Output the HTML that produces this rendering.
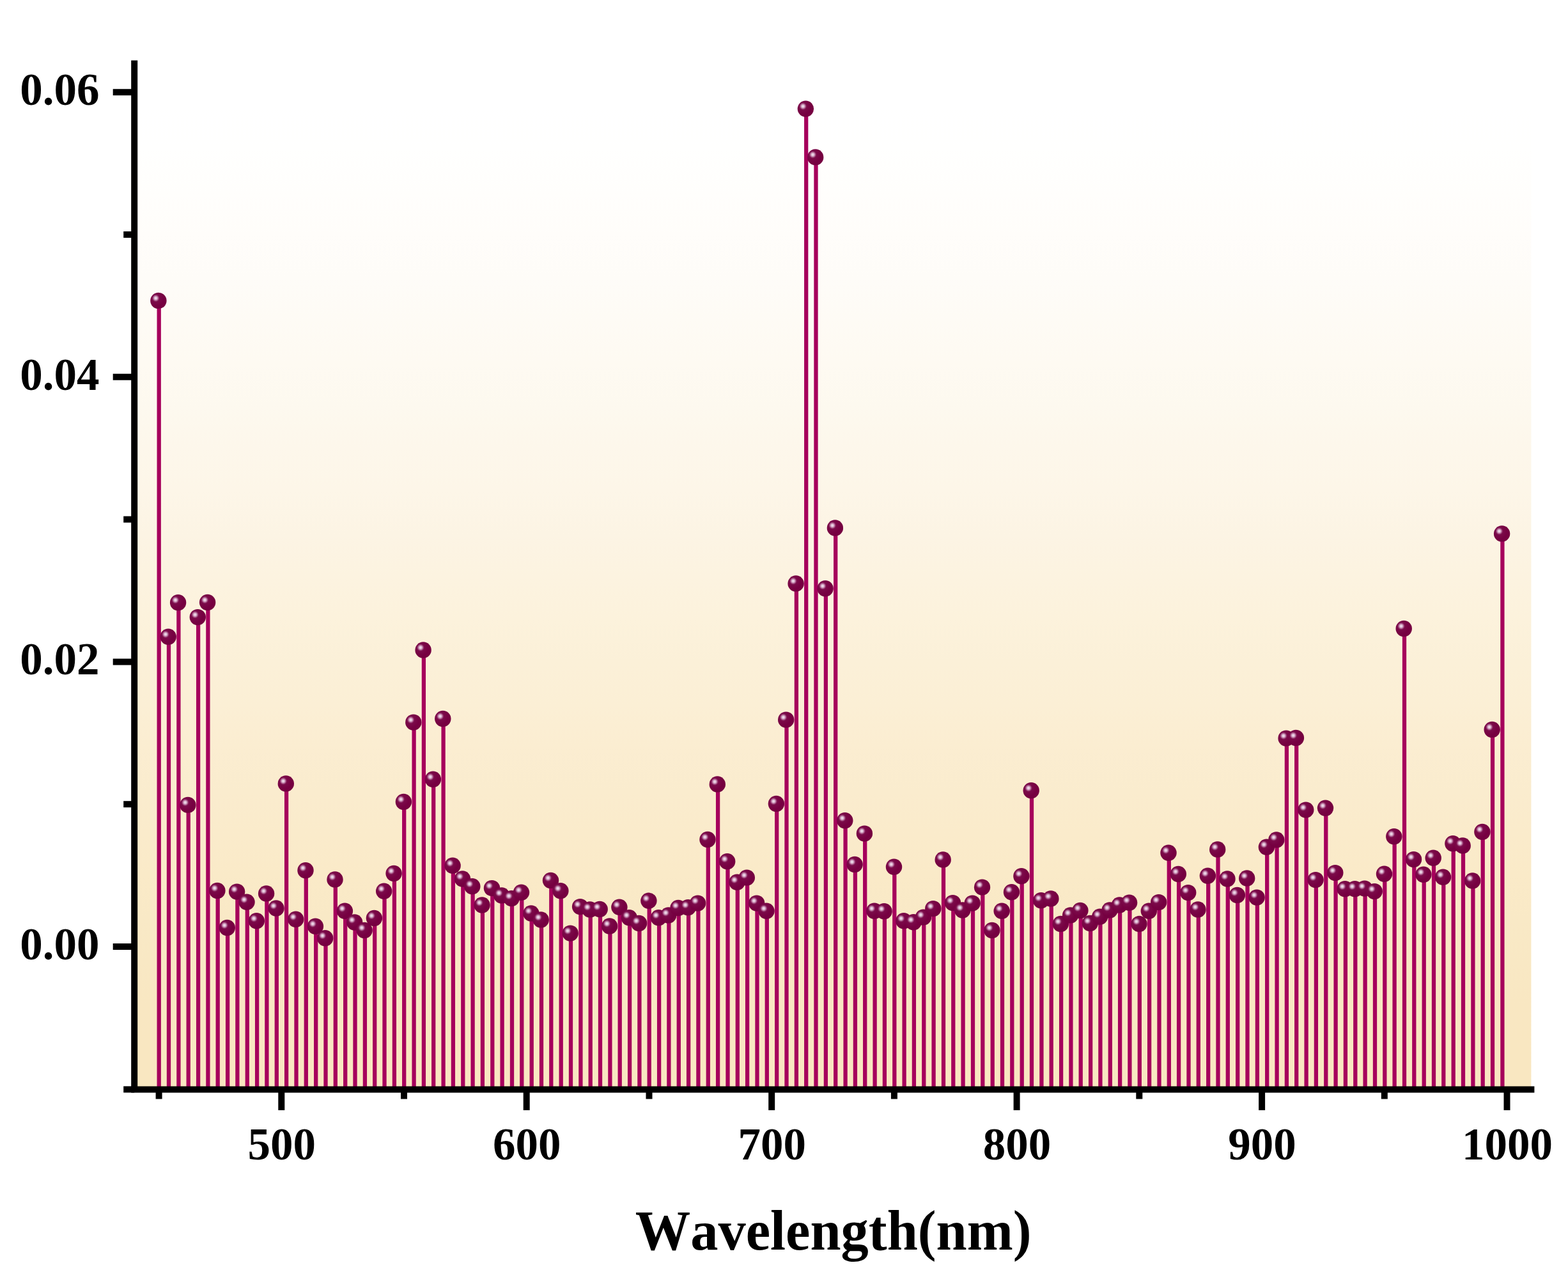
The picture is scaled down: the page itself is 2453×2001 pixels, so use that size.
<!DOCTYPE html>
<html lang="en"><head><meta charset="utf-8"><title>Wavelength spectrum</title>
<style>html,body{margin:0;padding:0;background:#fff;}body{width:2453px;height:2001px;overflow:hidden;}svg{display:block;}text{font-family:"Liberation Serif","Times New Roman",Times,serif;font-weight:bold;fill:#000;}</style></head><body>
<svg width="2453" height="2001" viewBox="0 0 2453 2001">
<defs>
<linearGradient id="bg" x1="0" y1="0" x2="0" y2="1"><stop offset="0.0000" stop-color="#ffffff"/><stop offset="0.0417" stop-color="#ffffff"/><stop offset="0.0833" stop-color="#fffffe"/><stop offset="0.1250" stop-color="#fffefc"/><stop offset="0.1667" stop-color="#fffdfa"/><stop offset="0.2083" stop-color="#fefcf8"/><stop offset="0.2500" stop-color="#fefbf5"/><stop offset="0.2917" stop-color="#fefaf2"/><stop offset="0.3333" stop-color="#fdf9ef"/><stop offset="0.3750" stop-color="#fdf7eb"/><stop offset="0.4167" stop-color="#fdf6e8"/><stop offset="0.4583" stop-color="#fcf4e4"/><stop offset="0.5000" stop-color="#fcf3e0"/><stop offset="0.5417" stop-color="#fcf2dc"/><stop offset="0.5833" stop-color="#fbf0d8"/><stop offset="0.6250" stop-color="#fbefd5"/><stop offset="0.6667" stop-color="#fbedd1"/><stop offset="0.7083" stop-color="#faecce"/><stop offset="0.7500" stop-color="#faebcb"/><stop offset="0.7917" stop-color="#faeac8"/><stop offset="0.8333" stop-color="#f9e9c6"/><stop offset="0.8750" stop-color="#f9e8c4"/><stop offset="0.9167" stop-color="#f9e7c2"/><stop offset="0.9583" stop-color="#f9e7c1"/><stop offset="1.0000" stop-color="#f9e7c1"/></linearGradient>
<radialGradient id="ball" cx="0.335" cy="0.345" r="0.5" fx="0.335" fy="0.345"><stop offset="0" stop-color="#f1e3ef"/><stop offset="0.12" stop-color="#e6cde0"/><stop offset="0.24" stop-color="#c68bb0"/><stop offset="0.36" stop-color="#95386f"/><stop offset="0.46" stop-color="#7b0a49"/><stop offset="1" stop-color="#760041"/></radialGradient>
</defs>
<rect x="0" y="0" width="2453" height="2001" fill="#ffffff"/>
<rect x="210.2" y="99.5" width="2185.2" height="1604.9" fill="url(#bg)"/>
<g id="series">
<line x1="248.7" y1="470.3" x2="248.7" y2="1704.4" stroke="#a6005c" stroke-width="6.3"/>
<circle cx="247.9" cy="470.4" r="12.7" fill="url(#ball)"/>
<line x1="264.0" y1="996.2" x2="264.0" y2="1704.4" stroke="#a6005c" stroke-width="6.3"/>
<circle cx="263.2" cy="996.3" r="12.7" fill="url(#ball)"/>
<line x1="279.4" y1="942.6" x2="279.4" y2="1704.4" stroke="#a6005c" stroke-width="6.3"/>
<circle cx="278.6" cy="942.7" r="12.7" fill="url(#ball)"/>
<line x1="294.7" y1="1259.3" x2="294.7" y2="1704.4" stroke="#a6005c" stroke-width="6.3"/>
<circle cx="293.9" cy="1259.4" r="12.7" fill="url(#ball)"/>
<line x1="310.1" y1="965.5" x2="310.1" y2="1704.4" stroke="#a6005c" stroke-width="6.3"/>
<circle cx="309.3" cy="965.6" r="12.7" fill="url(#ball)"/>
<line x1="325.4" y1="942.4" x2="325.4" y2="1704.4" stroke="#a6005c" stroke-width="6.3"/>
<circle cx="324.6" cy="942.5" r="12.7" fill="url(#ball)"/>
<line x1="340.7" y1="1393.3" x2="340.7" y2="1704.4" stroke="#a6005c" stroke-width="6.3"/>
<circle cx="339.9" cy="1393.4" r="12.7" fill="url(#ball)"/>
<line x1="356.1" y1="1451.4" x2="356.1" y2="1704.4" stroke="#a6005c" stroke-width="6.3"/>
<circle cx="355.3" cy="1451.5" r="12.7" fill="url(#ball)"/>
<line x1="371.4" y1="1395.0" x2="371.4" y2="1704.4" stroke="#a6005c" stroke-width="6.3"/>
<circle cx="370.6" cy="1395.1" r="12.7" fill="url(#ball)"/>
<line x1="386.8" y1="1411.2" x2="386.8" y2="1704.4" stroke="#a6005c" stroke-width="6.3"/>
<circle cx="386.0" cy="1411.3" r="12.7" fill="url(#ball)"/>
<line x1="402.1" y1="1440.7" x2="402.1" y2="1704.4" stroke="#a6005c" stroke-width="6.3"/>
<circle cx="401.3" cy="1440.8" r="12.7" fill="url(#ball)"/>
<line x1="417.4" y1="1397.8" x2="417.4" y2="1704.4" stroke="#a6005c" stroke-width="6.3"/>
<circle cx="416.6" cy="1397.9" r="12.7" fill="url(#ball)"/>
<line x1="432.8" y1="1420.9" x2="432.8" y2="1704.4" stroke="#a6005c" stroke-width="6.3"/>
<circle cx="432.0" cy="1421.0" r="12.7" fill="url(#ball)"/>
<line x1="448.1" y1="1225.8" x2="448.1" y2="1704.4" stroke="#a6005c" stroke-width="6.3"/>
<circle cx="447.3" cy="1225.9" r="12.7" fill="url(#ball)"/>
<line x1="463.5" y1="1438.2" x2="463.5" y2="1704.4" stroke="#a6005c" stroke-width="6.3"/>
<circle cx="462.7" cy="1438.3" r="12.7" fill="url(#ball)"/>
<line x1="478.8" y1="1361.7" x2="478.8" y2="1704.4" stroke="#a6005c" stroke-width="6.3"/>
<circle cx="478.0" cy="1361.8" r="12.7" fill="url(#ball)"/>
<line x1="494.2" y1="1449.1" x2="494.2" y2="1704.4" stroke="#a6005c" stroke-width="6.3"/>
<circle cx="493.4" cy="1449.2" r="12.7" fill="url(#ball)"/>
<line x1="509.5" y1="1467.6" x2="509.5" y2="1704.4" stroke="#a6005c" stroke-width="6.3"/>
<circle cx="508.7" cy="1467.7" r="12.7" fill="url(#ball)"/>
<line x1="524.8" y1="1375.8" x2="524.8" y2="1704.4" stroke="#a6005c" stroke-width="6.3"/>
<circle cx="524.0" cy="1375.9" r="12.7" fill="url(#ball)"/>
<line x1="540.2" y1="1425.1" x2="540.2" y2="1704.4" stroke="#a6005c" stroke-width="6.3"/>
<circle cx="539.4" cy="1425.2" r="12.7" fill="url(#ball)"/>
<line x1="555.5" y1="1442.9" x2="555.5" y2="1704.4" stroke="#a6005c" stroke-width="6.3"/>
<circle cx="554.7" cy="1443.0" r="12.7" fill="url(#ball)"/>
<line x1="570.9" y1="1455.3" x2="570.9" y2="1704.4" stroke="#a6005c" stroke-width="6.3"/>
<circle cx="570.1" cy="1455.4" r="12.7" fill="url(#ball)"/>
<line x1="586.2" y1="1436.4" x2="586.2" y2="1704.4" stroke="#a6005c" stroke-width="6.3"/>
<circle cx="585.4" cy="1436.5" r="12.7" fill="url(#ball)"/>
<line x1="601.5" y1="1394.2" x2="601.5" y2="1704.4" stroke="#a6005c" stroke-width="6.3"/>
<circle cx="600.7" cy="1394.3" r="12.7" fill="url(#ball)"/>
<line x1="616.9" y1="1366.4" x2="616.9" y2="1704.4" stroke="#a6005c" stroke-width="6.3"/>
<circle cx="616.1" cy="1366.5" r="12.7" fill="url(#ball)"/>
<line x1="632.2" y1="1254.3" x2="632.2" y2="1704.4" stroke="#a6005c" stroke-width="6.3"/>
<circle cx="631.4" cy="1254.4" r="12.7" fill="url(#ball)"/>
<line x1="647.6" y1="1130.0" x2="647.6" y2="1704.4" stroke="#a6005c" stroke-width="6.3"/>
<circle cx="646.8" cy="1130.1" r="12.7" fill="url(#ball)"/>
<line x1="662.9" y1="1016.9" x2="662.9" y2="1704.4" stroke="#a6005c" stroke-width="6.3"/>
<circle cx="662.1" cy="1017.0" r="12.7" fill="url(#ball)"/>
<line x1="678.2" y1="1219.2" x2="678.2" y2="1704.4" stroke="#a6005c" stroke-width="6.3"/>
<circle cx="677.4" cy="1219.3" r="12.7" fill="url(#ball)"/>
<line x1="693.6" y1="1124.4" x2="693.6" y2="1704.4" stroke="#a6005c" stroke-width="6.3"/>
<circle cx="692.8" cy="1124.5" r="12.7" fill="url(#ball)"/>
<line x1="708.9" y1="1354.2" x2="708.9" y2="1704.4" stroke="#a6005c" stroke-width="6.3"/>
<circle cx="708.1" cy="1354.3" r="12.7" fill="url(#ball)"/>
<line x1="724.3" y1="1374.9" x2="724.3" y2="1704.4" stroke="#a6005c" stroke-width="6.3"/>
<circle cx="723.5" cy="1375.0" r="12.7" fill="url(#ball)"/>
<line x1="739.6" y1="1386.7" x2="739.6" y2="1704.4" stroke="#a6005c" stroke-width="6.3"/>
<circle cx="738.8" cy="1386.8" r="12.7" fill="url(#ball)"/>
<line x1="754.9" y1="1415.9" x2="754.9" y2="1704.4" stroke="#a6005c" stroke-width="6.3"/>
<circle cx="754.1" cy="1416.0" r="12.7" fill="url(#ball)"/>
<line x1="770.3" y1="1389.5" x2="770.3" y2="1704.4" stroke="#a6005c" stroke-width="6.3"/>
<circle cx="769.5" cy="1389.6" r="12.7" fill="url(#ball)"/>
<line x1="785.6" y1="1400.8" x2="785.6" y2="1704.4" stroke="#a6005c" stroke-width="6.3"/>
<circle cx="784.8" cy="1400.9" r="12.7" fill="url(#ball)"/>
<line x1="801.0" y1="1405.5" x2="801.0" y2="1704.4" stroke="#a6005c" stroke-width="6.3"/>
<circle cx="800.2" cy="1405.6" r="12.7" fill="url(#ball)"/>
<line x1="816.3" y1="1396.1" x2="816.3" y2="1704.4" stroke="#a6005c" stroke-width="6.3"/>
<circle cx="815.5" cy="1396.2" r="12.7" fill="url(#ball)"/>
<line x1="831.7" y1="1428.8" x2="831.7" y2="1704.4" stroke="#a6005c" stroke-width="6.3"/>
<circle cx="830.9" cy="1428.9" r="12.7" fill="url(#ball)"/>
<line x1="847.0" y1="1438.8" x2="847.0" y2="1704.4" stroke="#a6005c" stroke-width="6.3"/>
<circle cx="846.2" cy="1438.9" r="12.7" fill="url(#ball)"/>
<line x1="862.3" y1="1377.3" x2="862.3" y2="1704.4" stroke="#a6005c" stroke-width="6.3"/>
<circle cx="861.5" cy="1377.4" r="12.7" fill="url(#ball)"/>
<line x1="877.7" y1="1393.7" x2="877.7" y2="1704.4" stroke="#a6005c" stroke-width="6.3"/>
<circle cx="876.9" cy="1393.8" r="12.7" fill="url(#ball)"/>
<line x1="893.0" y1="1460.0" x2="893.0" y2="1704.4" stroke="#a6005c" stroke-width="6.3"/>
<circle cx="892.2" cy="1460.1" r="12.7" fill="url(#ball)"/>
<line x1="908.4" y1="1418.5" x2="908.4" y2="1704.4" stroke="#a6005c" stroke-width="6.3"/>
<circle cx="907.6" cy="1418.6" r="12.7" fill="url(#ball)"/>
<line x1="923.7" y1="1422.8" x2="923.7" y2="1704.4" stroke="#a6005c" stroke-width="6.3"/>
<circle cx="922.9" cy="1422.9" r="12.7" fill="url(#ball)"/>
<line x1="939.0" y1="1422.4" x2="939.0" y2="1704.4" stroke="#a6005c" stroke-width="6.3"/>
<circle cx="938.2" cy="1422.5" r="12.7" fill="url(#ball)"/>
<line x1="954.4" y1="1448.8" x2="954.4" y2="1704.4" stroke="#a6005c" stroke-width="6.3"/>
<circle cx="953.6" cy="1448.9" r="12.7" fill="url(#ball)"/>
<line x1="969.7" y1="1419.1" x2="969.7" y2="1704.4" stroke="#a6005c" stroke-width="6.3"/>
<circle cx="968.9" cy="1419.2" r="12.7" fill="url(#ball)"/>
<line x1="985.1" y1="1435.6" x2="985.1" y2="1704.4" stroke="#a6005c" stroke-width="6.3"/>
<circle cx="984.3" cy="1435.7" r="12.7" fill="url(#ball)"/>
<line x1="1000.4" y1="1444.4" x2="1000.4" y2="1704.4" stroke="#a6005c" stroke-width="6.3"/>
<circle cx="999.6" cy="1444.5" r="12.7" fill="url(#ball)"/>
<line x1="1015.7" y1="1409.2" x2="1015.7" y2="1704.4" stroke="#a6005c" stroke-width="6.3"/>
<circle cx="1014.9" cy="1409.3" r="12.7" fill="url(#ball)"/>
<line x1="1031.1" y1="1435.6" x2="1031.1" y2="1704.4" stroke="#a6005c" stroke-width="6.3"/>
<circle cx="1030.3" cy="1435.7" r="12.7" fill="url(#ball)"/>
<line x1="1046.4" y1="1431.8" x2="1046.4" y2="1704.4" stroke="#a6005c" stroke-width="6.3"/>
<circle cx="1045.6" cy="1431.9" r="12.7" fill="url(#ball)"/>
<line x1="1061.8" y1="1420.4" x2="1061.8" y2="1704.4" stroke="#a6005c" stroke-width="6.3"/>
<circle cx="1061.0" cy="1420.5" r="12.7" fill="url(#ball)"/>
<line x1="1077.1" y1="1419.6" x2="1077.1" y2="1704.4" stroke="#a6005c" stroke-width="6.3"/>
<circle cx="1076.3" cy="1419.7" r="12.7" fill="url(#ball)"/>
<line x1="1092.4" y1="1413.0" x2="1092.4" y2="1704.4" stroke="#a6005c" stroke-width="6.3"/>
<circle cx="1091.6" cy="1413.1" r="12.7" fill="url(#ball)"/>
<line x1="1107.8" y1="1313.4" x2="1107.8" y2="1704.4" stroke="#a6005c" stroke-width="6.3"/>
<circle cx="1107.0" cy="1313.5" r="12.7" fill="url(#ball)"/>
<line x1="1123.1" y1="1226.8" x2="1123.1" y2="1704.4" stroke="#a6005c" stroke-width="6.3"/>
<circle cx="1122.3" cy="1226.9" r="12.7" fill="url(#ball)"/>
<line x1="1138.5" y1="1347.6" x2="1138.5" y2="1704.4" stroke="#a6005c" stroke-width="6.3"/>
<circle cx="1137.7" cy="1347.7" r="12.7" fill="url(#ball)"/>
<line x1="1153.8" y1="1380.2" x2="1153.8" y2="1704.4" stroke="#a6005c" stroke-width="6.3"/>
<circle cx="1153.0" cy="1380.3" r="12.7" fill="url(#ball)"/>
<line x1="1169.1" y1="1373.0" x2="1169.1" y2="1704.4" stroke="#a6005c" stroke-width="6.3"/>
<circle cx="1168.3" cy="1373.1" r="12.7" fill="url(#ball)"/>
<line x1="1184.5" y1="1413.0" x2="1184.5" y2="1704.4" stroke="#a6005c" stroke-width="6.3"/>
<circle cx="1183.7" cy="1413.1" r="12.7" fill="url(#ball)"/>
<line x1="1199.8" y1="1425.1" x2="1199.8" y2="1704.4" stroke="#a6005c" stroke-width="6.3"/>
<circle cx="1199.0" cy="1425.2" r="12.7" fill="url(#ball)"/>
<line x1="1215.2" y1="1257.4" x2="1215.2" y2="1704.4" stroke="#a6005c" stroke-width="6.3"/>
<circle cx="1214.4" cy="1257.5" r="12.7" fill="url(#ball)"/>
<line x1="1230.5" y1="1126.0" x2="1230.5" y2="1704.4" stroke="#a6005c" stroke-width="6.3"/>
<circle cx="1229.7" cy="1126.1" r="12.7" fill="url(#ball)"/>
<line x1="1245.9" y1="912.8" x2="1245.9" y2="1704.4" stroke="#a6005c" stroke-width="6.3"/>
<circle cx="1245.1" cy="912.9" r="12.7" fill="url(#ball)"/>
<line x1="1261.2" y1="170.1" x2="1261.2" y2="1704.4" stroke="#a6005c" stroke-width="6.3"/>
<circle cx="1260.4" cy="170.2" r="12.7" fill="url(#ball)"/>
<line x1="1276.5" y1="245.8" x2="1276.5" y2="1704.4" stroke="#a6005c" stroke-width="6.3"/>
<circle cx="1275.7" cy="245.9" r="12.7" fill="url(#ball)"/>
<line x1="1291.9" y1="920.6" x2="1291.9" y2="1704.4" stroke="#a6005c" stroke-width="6.3"/>
<circle cx="1291.1" cy="920.7" r="12.7" fill="url(#ball)"/>
<line x1="1307.2" y1="825.9" x2="1307.2" y2="1704.4" stroke="#a6005c" stroke-width="6.3"/>
<circle cx="1306.4" cy="826.0" r="12.7" fill="url(#ball)"/>
<line x1="1322.6" y1="1283.7" x2="1322.6" y2="1704.4" stroke="#a6005c" stroke-width="6.3"/>
<circle cx="1321.8" cy="1283.8" r="12.7" fill="url(#ball)"/>
<line x1="1337.9" y1="1352.3" x2="1337.9" y2="1704.4" stroke="#a6005c" stroke-width="6.3"/>
<circle cx="1337.1" cy="1352.4" r="12.7" fill="url(#ball)"/>
<line x1="1353.2" y1="1304.0" x2="1353.2" y2="1704.4" stroke="#a6005c" stroke-width="6.3"/>
<circle cx="1352.4" cy="1304.1" r="12.7" fill="url(#ball)"/>
<line x1="1368.6" y1="1425.1" x2="1368.6" y2="1704.4" stroke="#a6005c" stroke-width="6.3"/>
<circle cx="1367.8" cy="1425.2" r="12.7" fill="url(#ball)"/>
<line x1="1383.9" y1="1425.6" x2="1383.9" y2="1704.4" stroke="#a6005c" stroke-width="6.3"/>
<circle cx="1383.1" cy="1425.7" r="12.7" fill="url(#ball)"/>
<line x1="1399.3" y1="1356.1" x2="1399.3" y2="1704.4" stroke="#a6005c" stroke-width="6.3"/>
<circle cx="1398.5" cy="1356.2" r="12.7" fill="url(#ball)"/>
<line x1="1414.6" y1="1440.7" x2="1414.6" y2="1704.4" stroke="#a6005c" stroke-width="6.3"/>
<circle cx="1413.8" cy="1440.8" r="12.7" fill="url(#ball)"/>
<line x1="1429.9" y1="1442.6" x2="1429.9" y2="1704.4" stroke="#a6005c" stroke-width="6.3"/>
<circle cx="1429.1" cy="1442.7" r="12.7" fill="url(#ball)"/>
<line x1="1445.3" y1="1435.0" x2="1445.3" y2="1704.4" stroke="#a6005c" stroke-width="6.3"/>
<circle cx="1444.5" cy="1435.1" r="12.7" fill="url(#ball)"/>
<line x1="1460.6" y1="1421.5" x2="1460.6" y2="1704.4" stroke="#a6005c" stroke-width="6.3"/>
<circle cx="1459.8" cy="1421.6" r="12.7" fill="url(#ball)"/>
<line x1="1476.0" y1="1344.8" x2="1476.0" y2="1704.4" stroke="#a6005c" stroke-width="6.3"/>
<circle cx="1475.2" cy="1344.9" r="12.7" fill="url(#ball)"/>
<line x1="1491.3" y1="1412.5" x2="1491.3" y2="1704.4" stroke="#a6005c" stroke-width="6.3"/>
<circle cx="1490.5" cy="1412.6" r="12.7" fill="url(#ball)"/>
<line x1="1506.6" y1="1423.8" x2="1506.6" y2="1704.4" stroke="#a6005c" stroke-width="6.3"/>
<circle cx="1505.8" cy="1423.9" r="12.7" fill="url(#ball)"/>
<line x1="1522.0" y1="1413.0" x2="1522.0" y2="1704.4" stroke="#a6005c" stroke-width="6.3"/>
<circle cx="1521.2" cy="1413.1" r="12.7" fill="url(#ball)"/>
<line x1="1537.3" y1="1388.0" x2="1537.3" y2="1704.4" stroke="#a6005c" stroke-width="6.3"/>
<circle cx="1536.5" cy="1388.1" r="12.7" fill="url(#ball)"/>
<line x1="1552.7" y1="1455.3" x2="1552.7" y2="1704.4" stroke="#a6005c" stroke-width="6.3"/>
<circle cx="1551.9" cy="1455.4" r="12.7" fill="url(#ball)"/>
<line x1="1568.0" y1="1425.1" x2="1568.0" y2="1704.4" stroke="#a6005c" stroke-width="6.3"/>
<circle cx="1567.2" cy="1425.2" r="12.7" fill="url(#ball)"/>
<line x1="1583.3" y1="1395.6" x2="1583.3" y2="1704.4" stroke="#a6005c" stroke-width="6.3"/>
<circle cx="1582.5" cy="1395.7" r="12.7" fill="url(#ball)"/>
<line x1="1598.7" y1="1370.6" x2="1598.7" y2="1704.4" stroke="#a6005c" stroke-width="6.3"/>
<circle cx="1597.9" cy="1370.7" r="12.7" fill="url(#ball)"/>
<line x1="1614.0" y1="1236.7" x2="1614.0" y2="1704.4" stroke="#a6005c" stroke-width="6.3"/>
<circle cx="1613.2" cy="1236.8" r="12.7" fill="url(#ball)"/>
<line x1="1629.4" y1="1408.7" x2="1629.4" y2="1704.4" stroke="#a6005c" stroke-width="6.3"/>
<circle cx="1628.6" cy="1408.8" r="12.7" fill="url(#ball)"/>
<line x1="1644.7" y1="1405.9" x2="1644.7" y2="1704.4" stroke="#a6005c" stroke-width="6.3"/>
<circle cx="1643.9" cy="1406.0" r="12.7" fill="url(#ball)"/>
<line x1="1660.1" y1="1445.4" x2="1660.1" y2="1704.4" stroke="#a6005c" stroke-width="6.3"/>
<circle cx="1659.3" cy="1445.5" r="12.7" fill="url(#ball)"/>
<line x1="1675.4" y1="1431.8" x2="1675.4" y2="1704.4" stroke="#a6005c" stroke-width="6.3"/>
<circle cx="1674.6" cy="1431.9" r="12.7" fill="url(#ball)"/>
<line x1="1690.7" y1="1424.3" x2="1690.7" y2="1704.4" stroke="#a6005c" stroke-width="6.3"/>
<circle cx="1689.9" cy="1424.4" r="12.7" fill="url(#ball)"/>
<line x1="1706.1" y1="1444.4" x2="1706.1" y2="1704.4" stroke="#a6005c" stroke-width="6.3"/>
<circle cx="1705.3" cy="1444.5" r="12.7" fill="url(#ball)"/>
<line x1="1721.4" y1="1434.1" x2="1721.4" y2="1704.4" stroke="#a6005c" stroke-width="6.3"/>
<circle cx="1720.6" cy="1434.2" r="12.7" fill="url(#ball)"/>
<line x1="1736.8" y1="1423.8" x2="1736.8" y2="1704.4" stroke="#a6005c" stroke-width="6.3"/>
<circle cx="1736.0" cy="1423.9" r="12.7" fill="url(#ball)"/>
<line x1="1752.1" y1="1415.9" x2="1752.1" y2="1704.4" stroke="#a6005c" stroke-width="6.3"/>
<circle cx="1751.3" cy="1416.0" r="12.7" fill="url(#ball)"/>
<line x1="1767.4" y1="1412.1" x2="1767.4" y2="1704.4" stroke="#a6005c" stroke-width="6.3"/>
<circle cx="1766.6" cy="1412.2" r="12.7" fill="url(#ball)"/>
<line x1="1782.8" y1="1445.4" x2="1782.8" y2="1704.4" stroke="#a6005c" stroke-width="6.3"/>
<circle cx="1782.0" cy="1445.5" r="12.7" fill="url(#ball)"/>
<line x1="1798.1" y1="1425.1" x2="1798.1" y2="1704.4" stroke="#a6005c" stroke-width="6.3"/>
<circle cx="1797.3" cy="1425.2" r="12.7" fill="url(#ball)"/>
<line x1="1813.5" y1="1411.5" x2="1813.5" y2="1704.4" stroke="#a6005c" stroke-width="6.3"/>
<circle cx="1812.7" cy="1411.6" r="12.7" fill="url(#ball)"/>
<line x1="1828.8" y1="1334.1" x2="1828.8" y2="1704.4" stroke="#a6005c" stroke-width="6.3"/>
<circle cx="1828.0" cy="1334.2" r="12.7" fill="url(#ball)"/>
<line x1="1844.1" y1="1367.4" x2="1844.1" y2="1704.4" stroke="#a6005c" stroke-width="6.3"/>
<circle cx="1843.3" cy="1367.5" r="12.7" fill="url(#ball)"/>
<line x1="1859.5" y1="1396.5" x2="1859.5" y2="1704.4" stroke="#a6005c" stroke-width="6.3"/>
<circle cx="1858.7" cy="1396.6" r="12.7" fill="url(#ball)"/>
<line x1="1874.8" y1="1422.8" x2="1874.8" y2="1704.4" stroke="#a6005c" stroke-width="6.3"/>
<circle cx="1874.0" cy="1422.9" r="12.7" fill="url(#ball)"/>
<line x1="1890.2" y1="1370.2" x2="1890.2" y2="1704.4" stroke="#a6005c" stroke-width="6.3"/>
<circle cx="1889.4" cy="1370.3" r="12.7" fill="url(#ball)"/>
<line x1="1905.5" y1="1328.8" x2="1905.5" y2="1704.4" stroke="#a6005c" stroke-width="6.3"/>
<circle cx="1904.7" cy="1328.9" r="12.7" fill="url(#ball)"/>
<line x1="1920.8" y1="1374.9" x2="1920.8" y2="1704.4" stroke="#a6005c" stroke-width="6.3"/>
<circle cx="1920.0" cy="1375.0" r="12.7" fill="url(#ball)"/>
<line x1="1936.2" y1="1400.3" x2="1936.2" y2="1704.4" stroke="#a6005c" stroke-width="6.3"/>
<circle cx="1935.4" cy="1400.4" r="12.7" fill="url(#ball)"/>
<line x1="1951.5" y1="1373.9" x2="1951.5" y2="1704.4" stroke="#a6005c" stroke-width="6.3"/>
<circle cx="1950.7" cy="1374.0" r="12.7" fill="url(#ball)"/>
<line x1="1966.9" y1="1404.0" x2="1966.9" y2="1704.4" stroke="#a6005c" stroke-width="6.3"/>
<circle cx="1966.1" cy="1404.1" r="12.7" fill="url(#ball)"/>
<line x1="1982.2" y1="1325.1" x2="1982.2" y2="1704.4" stroke="#a6005c" stroke-width="6.3"/>
<circle cx="1981.4" cy="1325.2" r="12.7" fill="url(#ball)"/>
<line x1="1997.6" y1="1313.8" x2="1997.6" y2="1704.4" stroke="#a6005c" stroke-width="6.3"/>
<circle cx="1996.8" cy="1313.9" r="12.7" fill="url(#ball)"/>
<line x1="2012.9" y1="1155.0" x2="2012.9" y2="1704.4" stroke="#a6005c" stroke-width="6.3"/>
<circle cx="2012.1" cy="1155.1" r="12.7" fill="url(#ball)"/>
<line x1="2028.2" y1="1154.4" x2="2028.2" y2="1704.4" stroke="#a6005c" stroke-width="6.3"/>
<circle cx="2027.4" cy="1154.5" r="12.7" fill="url(#ball)"/>
<line x1="2043.6" y1="1267.0" x2="2043.6" y2="1704.4" stroke="#a6005c" stroke-width="6.3"/>
<circle cx="2042.8" cy="1267.1" r="12.7" fill="url(#ball)"/>
<line x1="2058.9" y1="1376.5" x2="2058.9" y2="1704.4" stroke="#a6005c" stroke-width="6.3"/>
<circle cx="2058.1" cy="1376.6" r="12.7" fill="url(#ball)"/>
<line x1="2074.3" y1="1264.2" x2="2074.3" y2="1704.4" stroke="#a6005c" stroke-width="6.3"/>
<circle cx="2073.5" cy="1264.3" r="12.7" fill="url(#ball)"/>
<line x1="2089.6" y1="1365.5" x2="2089.6" y2="1704.4" stroke="#a6005c" stroke-width="6.3"/>
<circle cx="2088.8" cy="1365.6" r="12.7" fill="url(#ball)"/>
<line x1="2104.9" y1="1390.6" x2="2104.9" y2="1704.4" stroke="#a6005c" stroke-width="6.3"/>
<circle cx="2104.1" cy="1390.7" r="12.7" fill="url(#ball)"/>
<line x1="2120.3" y1="1390.6" x2="2120.3" y2="1704.4" stroke="#a6005c" stroke-width="6.3"/>
<circle cx="2119.5" cy="1390.7" r="12.7" fill="url(#ball)"/>
<line x1="2135.6" y1="1390.0" x2="2135.6" y2="1704.4" stroke="#a6005c" stroke-width="6.3"/>
<circle cx="2134.8" cy="1390.1" r="12.7" fill="url(#ball)"/>
<line x1="2151.0" y1="1394.5" x2="2151.0" y2="1704.4" stroke="#a6005c" stroke-width="6.3"/>
<circle cx="2150.2" cy="1394.6" r="12.7" fill="url(#ball)"/>
<line x1="2166.3" y1="1367.2" x2="2166.3" y2="1704.4" stroke="#a6005c" stroke-width="6.3"/>
<circle cx="2165.5" cy="1367.3" r="12.7" fill="url(#ball)"/>
<line x1="2181.6" y1="1308.6" x2="2181.6" y2="1704.4" stroke="#a6005c" stroke-width="6.3"/>
<circle cx="2180.8" cy="1308.7" r="12.7" fill="url(#ball)"/>
<line x1="2197.0" y1="983.4" x2="2197.0" y2="1704.4" stroke="#a6005c" stroke-width="6.3"/>
<circle cx="2196.2" cy="983.5" r="12.7" fill="url(#ball)"/>
<line x1="2212.3" y1="1344.5" x2="2212.3" y2="1704.4" stroke="#a6005c" stroke-width="6.3"/>
<circle cx="2211.5" cy="1344.6" r="12.7" fill="url(#ball)"/>
<line x1="2227.7" y1="1368.2" x2="2227.7" y2="1704.4" stroke="#a6005c" stroke-width="6.3"/>
<circle cx="2226.9" cy="1368.3" r="12.7" fill="url(#ball)"/>
<line x1="2243.0" y1="1342.1" x2="2243.0" y2="1704.4" stroke="#a6005c" stroke-width="6.3"/>
<circle cx="2242.2" cy="1342.2" r="12.7" fill="url(#ball)"/>
<line x1="2258.3" y1="1372.2" x2="2258.3" y2="1704.4" stroke="#a6005c" stroke-width="6.3"/>
<circle cx="2257.5" cy="1372.3" r="12.7" fill="url(#ball)"/>
<line x1="2273.7" y1="1319.6" x2="2273.7" y2="1704.4" stroke="#a6005c" stroke-width="6.3"/>
<circle cx="2272.9" cy="1319.7" r="12.7" fill="url(#ball)"/>
<line x1="2289.0" y1="1322.9" x2="2289.0" y2="1704.4" stroke="#a6005c" stroke-width="6.3"/>
<circle cx="2288.2" cy="1323.0" r="12.7" fill="url(#ball)"/>
<line x1="2304.4" y1="1377.8" x2="2304.4" y2="1704.4" stroke="#a6005c" stroke-width="6.3"/>
<circle cx="2303.6" cy="1377.9" r="12.7" fill="url(#ball)"/>
<line x1="2319.7" y1="1301.3" x2="2319.7" y2="1704.4" stroke="#a6005c" stroke-width="6.3"/>
<circle cx="2318.9" cy="1301.4" r="12.7" fill="url(#ball)"/>
<line x1="2335.0" y1="1141.3" x2="2335.0" y2="1704.4" stroke="#a6005c" stroke-width="6.3"/>
<circle cx="2334.2" cy="1141.4" r="12.7" fill="url(#ball)"/>
<line x1="2350.4" y1="834.8" x2="2350.4" y2="1704.4" stroke="#a6005c" stroke-width="6.3"/>
<circle cx="2349.6" cy="834.9" r="12.7" fill="url(#ball)"/>
</g>
<g id="axes" stroke="#000" stroke-width="10.0" stroke-linecap="butt" fill="none">
<line x1="210.2" y1="94.5" x2="210.2" y2="1704.4"/>
<line x1="205.2" y1="1704.4" x2="2400.4" y2="1704.4"/>
<line x1="193.2" y1="1704.4" x2="210.2" y2="1704.4"/>
<line x1="176.7" y1="1481.0" x2="210.2" y2="1481.0"/>
<line x1="193.2" y1="1258.2" x2="210.2" y2="1258.2"/>
<line x1="176.7" y1="1035.4" x2="210.2" y2="1035.4"/>
<line x1="193.2" y1="812.6" x2="210.2" y2="812.6"/>
<line x1="176.7" y1="589.8" x2="210.2" y2="589.8"/>
<line x1="193.2" y1="367.0" x2="210.2" y2="367.0"/>
<line x1="176.7" y1="144.2" x2="210.2" y2="144.2"/>
<line x1="248.6" y1="1704.4" x2="248.6" y2="1719.4"/>
<line x1="440.3" y1="1704.4" x2="440.3" y2="1736.9"/>
<line x1="632.0" y1="1704.4" x2="632.0" y2="1719.4"/>
<line x1="823.7" y1="1704.4" x2="823.7" y2="1736.9"/>
<line x1="1015.5" y1="1704.4" x2="1015.5" y2="1719.4"/>
<line x1="1207.2" y1="1704.4" x2="1207.2" y2="1736.9"/>
<line x1="1398.9" y1="1704.4" x2="1398.9" y2="1719.4"/>
<line x1="1590.6" y1="1704.4" x2="1590.6" y2="1736.9"/>
<line x1="1782.3" y1="1704.4" x2="1782.3" y2="1719.4"/>
<line x1="1974.1" y1="1704.4" x2="1974.1" y2="1736.9"/>
<line x1="2165.8" y1="1704.4" x2="2165.8" y2="1719.4"/>
<line x1="2357.5" y1="1704.4" x2="2357.5" y2="1736.9"/>
</g>
<g id="ylabels" font-size="71" text-anchor="end">
<text x="155.6" y="1500.7">0.00</text>
<text x="155.6" y="1055.1">0.02</text>
<text x="155.6" y="609.5">0.04</text>
<text x="155.6" y="163.9">0.06</text>
</g>
<g id="xlabels" font-size="71" text-anchor="middle">
<text x="440.8" y="1814">500</text>
<text x="824.2" y="1814">600</text>
<text x="1207.7" y="1814">700</text>
<text x="1591.1" y="1814">800</text>
<text x="1974.6" y="1814">900</text>
<text x="2358.0" y="1814">1000</text>
</g>
<text id="xtitle" transform="translate(1303.6,1955.2) scale(0.9720,1)" x="0" y="0" font-size="89" text-anchor="middle" style="font-kerning:none">Wavelength(nm)</text>
</svg></body></html>
